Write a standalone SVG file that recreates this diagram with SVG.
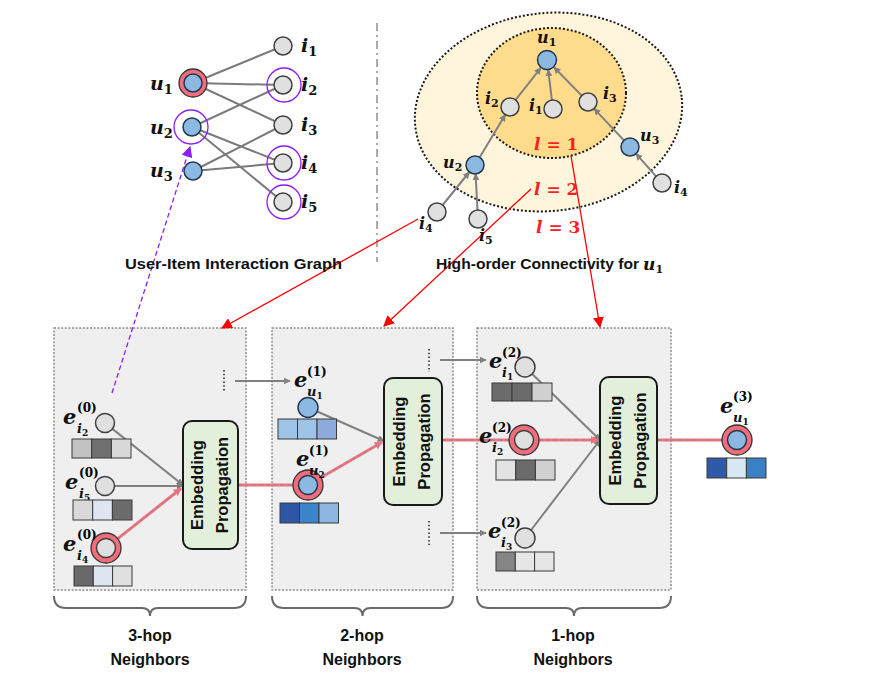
<svg xmlns="http://www.w3.org/2000/svg" width="870" height="688" viewBox="0 0 870 688">
<style>
.m{font-family:"DejaVu Serif",serif;font-weight:bold;font-style:italic;fill:#111}
.d{font-family:"DejaVu Serif",serif;font-weight:bold;font-style:normal}
.s{font-family:"Liberation Sans",Arial,sans-serif;font-weight:bold;fill:#111}
.red{fill:#ff1f1f}
.gn{fill:#e0e0e0;stroke:#404040;stroke-width:1.5}
.bn{fill:#8cb9e1;stroke:#24384f;stroke-width:1.5}
.ring{fill:#f26d7b;stroke:#333;stroke-width:1.3}
.pu{fill:none;stroke:#8a1cff;stroke-width:1.3}
.e{stroke:#7a7a7a;stroke-width:2;fill:none}
.ta{stroke:#808080;stroke-width:2;fill:none;marker-end:url(#ag)}
.ra{stroke:#ff0000;stroke-width:1.3;fill:none;marker-end:url(#ar)}
.pk{stroke:#f4717f;stroke-width:3;fill:none}
.pkd{stroke:#8a8a8a;stroke-width:1;stroke-dasharray:4 3;fill:none}
.panel{fill:#efefef;stroke:#8c8c8c;stroke-width:1.5;stroke-dasharray:2 1.6}
.box{fill:#e2efda;stroke:#1a1a1a;stroke-width:2}
.brace{fill:none;stroke:#6a6a6a;stroke-width:2}
.cell{stroke:#3a3a3a;stroke-width:1}
.dots{stroke:#555;stroke-width:2;stroke-dasharray:1.5 2.3}
.bt{font-family:"Liberation Sans",Arial,sans-serif;font-weight:bold;fill:#111;font-size:16.5px}
</style>
<defs>
<marker id="ag" viewBox="0 0 10 10" refX="9" refY="5" markerWidth="7" markerHeight="7" markerUnits="userSpaceOnUse" orient="auto"><path d="M0,0 L10,5 L0,10 z" fill="#808080"/></marker>
<marker id="ar" viewBox="0 0 10 10" refX="9" refY="5" markerWidth="11" markerHeight="11" markerUnits="userSpaceOnUse" orient="auto"><path d="M0,0 L10,5 L0,10 z" fill="#ff0000"/></marker>
<marker id="ap" viewBox="0 0 10 10" refX="9" refY="5" markerWidth="11" markerHeight="11" markerUnits="userSpaceOnUse" orient="auto"><path d="M0,0 L10,5 L0,10 z" fill="#8a1cff"/></marker>
<marker id="ak" viewBox="0 0 10 10" refX="9" refY="5" markerWidth="8" markerHeight="8" markerUnits="userSpaceOnUse" orient="auto"><path d="M0,0 L10,5 L0,10 z" fill="#f4717f"/></marker>
</defs>
<rect width="870" height="688" fill="#ffffff"/>

<!-- separator -->
<line x1="377" y1="23" x2="377" y2="262" stroke="#ababab" stroke-width="2" stroke-dasharray="8 4 2 4"/>

<!-- high-order ellipses -->
<g id="ellipses">
<ellipse cx="548.5" cy="112" rx="134" ry="99" transform="rotate(-6 548.5 112)" fill="#fff5dc" stroke="#1a1a1a" stroke-width="2" stroke-dasharray="2 2"/>
<ellipse cx="551.5" cy="93" rx="74.5" ry="65" fill="#fedc8c" stroke="#1a1a1a" stroke-width="2" stroke-dasharray="2 2"/>
</g>

<!-- panels -->
<g id="panel1">
<rect class="panel" x="54" y="328" width="192" height="262"/>
</g>
<g id="panel2">
<rect class="panel" x="272" y="328" width="181" height="262"/>
</g>
<g id="panel3">
<rect class="panel" x="477" y="328" width="194" height="262"/>
</g>

<!-- connectors -->
<g id="connectors">
<!-- bipartite graph -->
<line class="e" x1="193" y1="83" x2="283" y2="46"/>
<line class="e" x1="193" y1="83" x2="283" y2="85"/>
<line class="e" x1="193" y1="83" x2="283" y2="125"/>
<line class="e" x1="192" y1="127" x2="283" y2="85"/>
<line class="e" x1="192" y1="127" x2="283" y2="163"/>
<line class="e" x1="192" y1="127" x2="283" y2="202"/>
<line class="e" x1="193" y1="171" x2="283" y2="125"/>
<line class="e" x1="193" y1="171" x2="283" y2="163"/>
<!-- purple dashed -->
<line x1="112" y1="393" x2="190" y2="147" stroke="#8a1cff" stroke-width="1.3" stroke-dasharray="5 3" marker-end="url(#ap)"/>
<!-- tree arrows -->
<line class="ta" x1="515.6" y1="99.9" x2="540.8" y2="67.9"/>
<line class="ta" x1="551.9" y1="100.1" x2="548.2" y2="69.9"/>
<line class="ta" x1="581.7" y1="95.6" x2="554" y2="67.2"/>
<line class="ta" x1="479.7" y1="157.3" x2="505.3" y2="114.7"/>
<line class="ta" x1="623.9" y1="140.4" x2="594.1" y2="108.6"/>
<line class="ta" x1="442.7" y1="205" x2="469.3" y2="172"/>
<line class="ta" x1="477.5" y1="210" x2="475.6" y2="174"/>
<line class="ta" x1="656" y1="176.3" x2="636" y2="153.7"/>
<!-- red leaders -->
<line class="ra" x1="418" y1="219" x2="222" y2="328"/>
<line class="ra" x1="531" y1="189" x2="384" y2="326"/>
<line class="ra" x1="571" y1="156" x2="600" y2="327"/>
<!-- panel connectors -->
<line class="ta" x1="112.4" y1="428.9" x2="183" y2="485"/>
<line class="ta" x1="114.5" y1="486" x2="183" y2="486"/>
<line class="pk" x1="117.8" y1="538.7" x2="181" y2="488.5" marker-end="url(#ak)"/>
<line class="pkd" x1="117.8" y1="538.7" x2="178" y2="491"/>
<line class="pk" x1="238" y1="485" x2="293" y2="485"/>
<line class="pkd" x1="238" y1="485" x2="293" y2="485"/>
<line class="ta" x1="317.2" y1="411.5" x2="384" y2="441"/>
<line class="pk" x1="321" y1="477.5" x2="382" y2="442.2" marker-end="url(#ak)"/>
<line class="pkd" x1="321" y1="477.5" x2="378" y2="444.5"/>
<line class="pk" x1="442" y1="440" x2="509" y2="440"/>
<line class="pkd" x1="442" y1="440" x2="509" y2="440"/>
<line class="ta" x1="532.2" y1="374" x2="600" y2="440"/>
<line class="pk" x1="539" y1="440" x2="598" y2="440" marker-end="url(#ak)"/>
<line class="pkd" x1="539" y1="440" x2="594" y2="440"/>
<line class="ta" x1="531.1" y1="530" x2="600" y2="440"/>
<line class="pk" x1="657" y1="440" x2="722" y2="440"/>
<line class="pkd" x1="657" y1="440" x2="722" y2="440"/>
<line class="ta" x1="235" y1="381" x2="290" y2="381"/>
<line class="ta" x1="440" y1="360" x2="486" y2="360"/>
<line class="ta" x1="440" y1="533" x2="486" y2="533"/>
<line class="dots" x1="224" y1="370" x2="224" y2="392"/>
<line class="dots" x1="429" y1="349" x2="429" y2="372"/>
<line class="dots" x1="429" y1="521" x2="429" y2="545"/>
</g>

<!-- bipartite nodes -->
<g id="u1-left"><circle class="ring" cx="193" cy="83" r="14"/><circle class="bn" cx="193" cy="83" r="9"/>
<text class="m" x="150" y="90" font-size="19">u<tspan class="d" font-size="13" dy="4">1</tspan></text></g>
<g id="u2-left"><circle class="bn" cx="192" cy="127" r="9"/><circle class="pu" cx="191" cy="127" r="17"/>
<text class="m" x="150" y="134" font-size="19">u<tspan class="d" font-size="13" dy="4">2</tspan></text></g>
<g id="u3-left"><circle class="bn" cx="193" cy="171" r="9"/>
<text class="m" x="150" y="177" font-size="19">u<tspan class="d" font-size="13" dy="4">3</tspan></text></g>
<g id="i1-left"><circle class="gn" cx="283" cy="46" r="9"/>
<text class="m" x="301" y="52" font-size="19">i<tspan class="d" font-size="13" dy="4">1</tspan></text></g>
<g id="i2-left"><circle class="gn" cx="283" cy="85" r="9"/><circle class="pu" cx="284" cy="85" r="17"/>
<text class="m" x="301" y="91" font-size="19">i<tspan class="d" font-size="13" dy="4">2</tspan></text></g>
<g id="i3-left"><circle class="gn" cx="283" cy="125" r="9"/>
<text class="m" x="301" y="131" font-size="19">i<tspan class="d" font-size="13" dy="4">3</tspan></text></g>
<g id="i4-left"><circle class="gn" cx="283" cy="163" r="9"/><circle class="pu" cx="284" cy="163" r="17"/>
<text class="m" x="301" y="169" font-size="19">i<tspan class="d" font-size="13" dy="4">4</tspan></text></g>
<g id="i5-left"><circle class="gn" cx="283" cy="202" r="9"/><circle class="pu" cx="284" cy="202" r="17"/>
<text class="m" x="301" y="208" font-size="19">i<tspan class="d" font-size="13" dy="4">5</tspan></text></g>

<text class="s" x="125" y="269" font-size="15" textLength="217" lengthAdjust="spacingAndGlyphs">User-Item Interaction Graph</text>

<!-- tree nodes -->
<g id="t-u1"><circle class="bn" cx="547" cy="60" r="9.5"/><text class="m" x="537" y="43" font-size="16">u<tspan class="d" font-size="11" dy="3">1</tspan></text></g>
<g id="t-i2"><circle class="gn" cx="510" cy="107" r="9"/><text class="m" x="485" y="104" font-size="16">i<tspan class="d" font-size="11" dy="3">2</tspan></text></g>
<g id="t-i1"><circle class="gn" cx="553" cy="109" r="9"/><text class="m" x="529" y="111" font-size="16">i<tspan class="d" font-size="11" dy="3">1</tspan></text></g>
<g id="t-i3"><circle class="gn" cx="588" cy="102" r="9"/><text class="m" x="603" y="99" font-size="16">i<tspan class="d" font-size="11" dy="3">3</tspan></text></g>
<g id="t-u3"><circle class="bn" cx="630" cy="147" r="9"/><text class="m" x="640" y="141" font-size="16">u<tspan class="d" font-size="11" dy="3">3</tspan></text></g>
<g id="t-u2"><circle class="bn" cx="475" cy="165" r="9"/><text class="m" x="443" y="168" font-size="16">u<tspan class="d" font-size="11" dy="3">2</tspan></text></g>
<g id="t-i4r"><circle class="gn" cx="662" cy="183" r="9"/><text class="m" x="674" y="193" font-size="16">i<tspan class="d" font-size="11" dy="3">4</tspan></text></g>
<g id="t-i4l"><circle class="gn" cx="437" cy="212" r="9"/><text class="m" x="419" y="229" font-size="16">i<tspan class="d" font-size="11" dy="3">4</tspan></text></g>
<g id="t-i5"><circle class="gn" cx="478" cy="219" r="9"/><text class="m" x="479" y="241" font-size="16">i<tspan class="d" font-size="11" dy="3">5</tspan></text></g>

<text class="m red" x="534" y="150" font-size="17">l<tspan class="d"> = 1</tspan></text>
<text class="m red" x="534" y="195" font-size="17">l<tspan class="d"> = 2</tspan></text>
<text class="m red" x="536" y="233" font-size="17">l<tspan class="d"> = 3</tspan></text>

<text class="s" x="436" y="269" font-size="15" textLength="203" lengthAdjust="spacingAndGlyphs">High-order Connectivity for</text>
<text class="m" x="643" y="270" font-size="17">u<tspan class="d" font-size="11" dy="3">1</tspan></text>

<!-- panel 1 nodes -->
<g id="p1-i2">
<circle class="gn" cx="105" cy="423" r="9.5"/>
<text class="m" x="63" y="424" font-size="21">e</text>
<text class="d" x="77" y="412" font-size="12">(0)</text>
<text class="m" x="77" y="433" font-size="13">i<tspan class="d" font-size="9" dy="3">2</tspan></text>
<rect class="cell" x="72" y="439" width="19.7" height="19" fill="#c2c2c2"/>
<rect class="cell" x="91.7" y="439" width="19.7" height="19" fill="#707070"/>
<rect class="cell" x="111.4" y="439" width="19.6" height="19" fill="#d8d8d8"/>
</g>
<g id="p1-i5">
<circle class="gn" cx="105" cy="486" r="9.5"/>
<text class="m" x="65" y="489" font-size="21">e</text>
<text class="d" x="79" y="477" font-size="12">(0)</text>
<text class="m" x="79" y="498" font-size="13">i<tspan class="d" font-size="9" dy="3">5</tspan></text>
<rect class="cell" x="73" y="500" width="19.7" height="20" fill="#d9d9d9"/>
<rect class="cell" x="92.7" y="500" width="19.7" height="20" fill="#dfe6f2"/>
<rect class="cell" x="112.4" y="500" width="19.6" height="20" fill="#6c6c6c"/>
</g>
<g id="p1-i4">
<circle class="ring" cx="106" cy="548" r="15"/><circle class="gn" cx="106" cy="548" r="9.5"/>
<text class="m" x="63" y="551" font-size="21">e</text>
<text class="d" x="77" y="539" font-size="12">(0)</text>
<text class="m" x="77" y="560" font-size="13">i<tspan class="d" font-size="9" dy="3">4</tspan></text>
<rect class="cell" x="74" y="566" width="19.3" height="20" fill="#696969"/>
<rect class="cell" x="93.3" y="566" width="19.3" height="20" fill="#dfe6f2"/>
<rect class="cell" x="112.6" y="566" width="19.4" height="20" fill="#e0e0e0"/>
</g>
<g id="p1-box">
<rect class="box" x="183" y="421" width="55" height="128" rx="9"/>
<g transform="translate(210.5 485) rotate(-90)">
<text class="bt" x="0" y="-8" text-anchor="middle">Embedding</text>
<text class="bt" x="0" y="17" text-anchor="middle">Propagation</text>
</g>
</g>

<!-- panel 2 nodes -->
<g id="p2-u1">
<circle class="bn" cx="308" cy="407.5" r="10"/>
<text class="m" x="294" y="387" font-size="21">e</text>
<text class="d" x="307" y="376" font-size="12">(1)</text>
<text class="m" x="307" y="396" font-size="13">u<tspan class="d" font-size="9" dy="3">1</tspan></text>
<rect class="cell" x="278" y="419" width="19.5" height="20" fill="#9dc3e6"/>
<rect class="cell" x="297.5" y="419" width="19.5" height="20" fill="#9dc3e6"/>
<rect class="cell" x="317" y="419" width="19.5" height="20" fill="#8ea9db"/>
</g>
<g id="p2-u2">
<circle class="ring" cx="308" cy="485" r="15"/><circle class="bn" cx="308" cy="485" r="9.5"/>
<text class="m" x="296" y="466" font-size="21">e</text>
<text class="d" x="309" y="455" font-size="12">(1)</text>
<text class="m" x="309" y="475" font-size="13">u<tspan class="d" font-size="9" dy="3">2</tspan></text>
<rect class="cell" x="280" y="503" width="19.5" height="20" fill="#2f56a5"/>
<rect class="cell" x="299.5" y="503" width="19.5" height="20" fill="#3d84c9"/>
<rect class="cell" x="319" y="503" width="19.5" height="20" fill="#8db6e3"/>
</g>
<g id="p2-box">
<rect class="box" x="384" y="378" width="58" height="127" rx="9"/>
<g transform="translate(413 441.5) rotate(-90)">
<text class="bt" x="0" y="-8" text-anchor="middle">Embedding</text>
<text class="bt" x="0" y="17" text-anchor="middle">Propagation</text>
</g>
</g>

<!-- panel 3 nodes -->
<g id="p3-i1">
<circle class="gn" cx="525" cy="367" r="10"/>
<text class="m" x="489" y="368" font-size="21">e</text>
<text class="d" x="502" y="357" font-size="12">(2)</text>
<text class="m" x="502" y="377" font-size="13">i<tspan class="d" font-size="9" dy="3">1</tspan></text>
<rect class="cell" x="492" y="383" width="20" height="18" fill="#6b6b6b"/>
<rect class="cell" x="512" y="383" width="20" height="18" fill="#6b6b6b"/>
<rect class="cell" x="532" y="383" width="20" height="18" fill="#d0d0d0"/>
</g>
<g id="p3-i2">
<circle class="ring" cx="524" cy="440" r="15"/><circle class="gn" cx="524" cy="440" r="9.5"/>
<text class="m" x="479" y="443" font-size="21">e</text>
<text class="d" x="492" y="432" font-size="12">(2)</text>
<text class="m" x="492" y="452" font-size="13">i<tspan class="d" font-size="9" dy="3">2</tspan></text>
<rect class="cell" x="496" y="460" width="19.7" height="20" fill="#e3e3e3"/>
<rect class="cell" x="515.7" y="460" width="19.7" height="20" fill="#6b6b6b"/>
<rect class="cell" x="535.4" y="460" width="19.6" height="20" fill="#d0d0d0"/>
</g>
<g id="p3-i3">
<circle class="gn" cx="525" cy="538" r="10"/>
<text class="m" x="488" y="538" font-size="21">e</text>
<text class="d" x="501" y="527" font-size="12">(2)</text>
<text class="m" x="501" y="547" font-size="13">i<tspan class="d" font-size="9" dy="3">3</tspan></text>
<rect class="cell" x="496" y="552" width="19.3" height="19" fill="#858585"/>
<rect class="cell" x="515.3" y="552" width="19.3" height="19" fill="#e6e6e6"/>
<rect class="cell" x="534.6" y="552" width="19.4" height="19" fill="#e6e6e6"/>
</g>
<g id="p3-box">
<rect class="box" x="600" y="377" width="57" height="127" rx="9"/>
<g transform="translate(628.5 440.5) rotate(-90)">
<text class="bt" x="0" y="-8" text-anchor="middle">Embedding</text>
<text class="bt" x="0" y="17" text-anchor="middle">Propagation</text>
</g>
</g>

<!-- output -->
<g id="out-u1">
<circle class="ring" cx="737" cy="440" r="15"/><circle class="bn" cx="737" cy="440" r="9.5"/>
<text class="m" x="720" y="413" font-size="21">e</text>
<text class="d" x="733" y="401" font-size="12">(3)</text>
<text class="m" x="733" y="422" font-size="13">u<tspan class="d" font-size="9" dy="3">1</tspan></text>
<rect class="cell" x="707" y="458" width="19.7" height="20" fill="#2f5aa8"/>
<rect class="cell" x="726.7" y="458" width="19.7" height="20" fill="#d9e7f5"/>
<rect class="cell" x="746.4" y="458" width="19.6" height="20" fill="#3a80c6"/>
</g>

<!-- braces and labels -->
<g id="brace1">
<path class="brace" d="M54 596 Q54 608 66 608 L142 608 Q150 608 150 616 Q150 608 158 608 L234 608 Q246 608 246 596"/>
<text class="s" x="150" y="641" font-size="16" text-anchor="middle">3-hop</text>
<text class="s" x="150" y="665" font-size="16" text-anchor="middle">Neighbors</text>
</g>
<g id="brace2">
<path class="brace" d="M272 596 Q272 608 284 608 L354.5 608 Q362.5 608 362.5 616 Q362.5 608 370.5 608 L441 608 Q453 608 453 596"/>
<text class="s" x="362" y="641" font-size="16" text-anchor="middle">2-hop</text>
<text class="s" x="362" y="665" font-size="16" text-anchor="middle">Neighbors</text>
</g>
<g id="brace3">
<path class="brace" d="M477 596 Q477 608 489 608 L566 608 Q574 608 574 616 Q574 608 582 608 L659 608 Q671 608 671 596"/>
<text class="s" x="573" y="641" font-size="16" text-anchor="middle">1-hop</text>
<text class="s" x="573" y="665" font-size="16" text-anchor="middle">Neighbors</text>
</g>
</svg>
